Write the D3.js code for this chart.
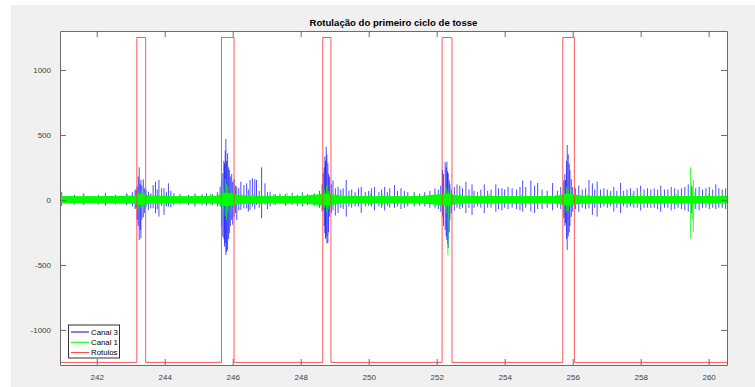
<!DOCTYPE html>
<html>
<head>
<meta charset="utf-8">
<script src="https://cdnjs.cloudflare.com/ajax/libs/d3/7.8.5/d3.min.js"></script>
<style>
  body { margin: 0; background: #fff; }
  text { font-family: "Liberation Sans", Arial, Helvetica, sans-serif; }
</style>
</head>
<body>
<svg id="chart"></svg>
<script>
var xTicks = [242, 244, 246, 248, 250, 252, 254, 256, 258, 260]
var yTicks = [-1000, -500, 0, 500, 1000]

// Rotulos: intervals where the label is high
var rotulosPulses = [[243.18, 243.44], [245.67, 246.04], [248.65, 248.89], [252.16, 252.45], [255.71, 256.05]]
var rotulosHigh = 1250
var rotulosLow = -1250

// Canal 3 (blue): [time, max, min] spikes
var canal3Spikes = [
  [240.97, 60, -45], [241.35, 40, -35], [241.62, 50, -40], [242.05, 40, -35], [242.26, 55, -45],
  [242.55, 40, -35], [242.88, 50, -40], [243.05, 60, -50],
  [243.13, 80, -70], [243.16, 77, -64], [243.19, 102, -154], [243.22, 180, -200], [243.25, 251, -308],
  [243.28, 120, -230], [243.30, 154, -295], [243.33, 110, -150], [243.37, 159, -133], [243.41, 90, -100],
  [243.45, 77, -56], [243.52, 64, -77], [243.59, 51, -64], [243.66, 115, -64], [243.73, 141, -102],
  [243.78, 80, -70], [243.83, 154, -128], [243.91, 90, -46], [243.98, 90, -115], [244.05, 60, -50],
  [244.11, 128, -51], [244.18, 69, -56], [244.27, 51, -40], [244.45, 45, -35], [244.70, 40, -40],
  [244.89, 50, -50], [245.10, 45, -40], [245.23, 50, -45], [245.40, 45, -40], [245.55, 60, -50],
  [245.63, 102, -51], [245.67, 150, -200], [245.71, 205, -282], [245.74, 300, -300], [245.76, 282, -359],
  [245.78, 380, -330], [245.80, 469, -423], [245.82, 300, -400], [245.85, 359, -385], [245.88, 250, -300],
  [245.90, 231, -256], [245.93, 180, -200], [245.97, 200, -154], [246.00, 140, -190], [246.04, 160, -130],
  [246.08, 110, -100], [246.12, 102, -154], [246.18, 90, -80], [246.24, 141, -77], [246.33, 115, -64],
  [246.41, 128, -64], [246.46, 80, -90], [246.51, 154, -77], [246.58, 167, -51], [246.65, 160, -70],
  [246.70, 154, -38], [246.78, 70, -60], [246.85, 251, -141], [246.95, 128, -38], [247.02, 60, -70],
  [247.10, 64, -51], [247.25, 45, -40], [247.39, 50, -30], [247.55, 45, -45], [247.75, 55, -40],
  [247.90, 40, -45], [248.05, 60, -50], [248.20, 45, -40], [248.40, 50, -45], [248.55, 70, -60],
  [248.63, 120, -90], [248.66, 205, -77], [248.69, 250, -200], [248.71, 333, -256], [248.73, 300, -300],
  [248.75, 410, -282], [248.77, 350, -333], [248.80, 282, -333], [248.82, 200, -250], [248.85, 179, -128],
  [248.90, 120, -100], [248.95, 150, -80], [249.02, 90, -120], [249.10, 100, -100], [249.18, 80, -60],
  [249.25, 90, -70], [249.34, 154, -128], [249.42, 70, -50], [249.50, 80, -60], [249.60, 60, -50],
  [249.70, 90, -50], [249.78, 100, -100], [249.90, 60, -50], [250.00, 70, -45], [250.08, 90, -50],
  [250.17, 100, -80], [250.30, 60, -50], [250.38, 80, -60], [250.47, 100, -80], [250.55, 60, -45],
  [250.62, 90, -60], [250.76, 115, -60], [250.85, 70, -50], [250.95, 90, -70], [251.05, 70, -60],
  [251.15, 60, -50], [251.34, 60, -50], [251.50, 50, -45], [251.65, 60, -50], [251.80, 70, -60],
  [251.95, 90, -60], [252.05, 80, -70], [252.12, 110, -90],
  [252.17, 231, -128], [252.20, 200, -200], [252.25, 290, -231], [252.28, 250, -280], [252.30, 295, -308],
  [252.32, 220, -340], [252.34, 205, -370], [252.37, 150, -250], [252.39, 120, -150], [252.43, 80, -100],
  [252.52, 100, -80], [252.60, 120, -60], [252.68, 110, -70], [252.76, 90, -60], [252.86, 140, -100],
  [252.95, 80, -60], [253.04, 120, -115], [253.10, 70, -60], [253.20, 60, -50], [253.30, 80, -60],
  [253.40, 120, -100], [253.50, 70, -60], [253.60, 80, -60], [253.74, 120, -90], [253.82, 90, -70],
  [253.92, 90, -80], [254.00, 80, -60], [254.10, 100, -70], [254.22, 90, -60], [254.35, 80, -70],
  [254.45, 100, -80], [254.53, 150, -90], [254.62, 100, -60], [254.77, 150, -90], [254.88, 110, -100],
  [254.97, 130, -70], [255.10, 80, -70], [255.25, 70, -60], [255.41, 130, -80], [255.55, 70, -60],
  [255.65, 100, -70],
  [255.74, 150, -140], [255.77, 200, -200], [255.79, 154, -179], [255.82, 300, -300], [255.84, 423, -385],
  [255.87, 350, -280], [255.90, 280, -250], [255.92, 231, -200], [255.96, 160, -130], [256.00, 100, -90],
  [256.08, 90, -70], [256.18, 110, -90], [256.28, 80, -60], [256.38, 90, -70], [256.48, 154, -64],
  [256.58, 128, -115], [256.65, 80, -60], [256.72, 141, -128], [256.82, 80, -60], [256.92, 90, -50],
  [257.02, 80, -60], [257.12, 70, -50], [257.21, 100, -90], [257.30, 70, -60], [257.41, 130, -100],
  [257.50, 70, -50], [257.60, 80, -60], [257.70, 90, -50], [257.80, 70, -60], [257.90, 90, -60],
  [258.00, 110, -80], [258.10, 80, -60], [258.20, 90, -60], [258.30, 80, -60], [258.40, 90, -60],
  [258.50, 80, -70], [258.59, 110, -90], [258.70, 80, -60], [258.80, 80, -60], [258.90, 100, -80],
  [259.00, 90, -70], [259.10, 80, -60], [259.20, 90, -70], [259.30, 100, -80], [259.40, 120, -90],
  [259.50, 110, -100], [259.62, 90, -70], [259.72, 100, -80], [259.82, 80, -60], [259.92, 90, -60],
  [260.02, 100, -70], [260.12, 80, -60], [260.21, 120, -70], [260.30, 90, -60], [260.40, 80, -60],
  [260.50, 90, -70]
]
var canal3Band = [[240.92, 24, -24], [260.54, 24, -24]]

// Canal 1 (green)
var canal1Spikes = [
  [241.60, 50, -35], [242.25, 45, -30], [242.90, 45, -35], [243.22, 60, -70], [243.30, 70, -60],
  [243.40, 50, -50], [244.00, 45, -40], [244.90, 40, -40], [245.35, 50, -35], [245.72, 80, -80],
  [245.78, 160, -120], [245.82, 120, -150], [245.86, 100, -90], [245.95, 60, -60], [246.25, 45, -40],
  [246.60, 50, -40], [247.20, 45, -35], [247.60, 55, -40], [248.05, 50, -40], [248.40, 50, -40],
  [248.70, 80, -60], [248.76, 110, -90], [248.81, 70, -70], [249.10, 50, -40], [249.62, 40, -35],
  [250.05, 50, -40], [250.40, 45, -40], [251.34, 55, -40], [251.95, 50, -40], [252.28, 100, -100],
  [252.33, 80, -423], [252.36, 60, -150], [252.70, 45, -40], [253.20, 50, -40], [253.55, 45, -35],
  [254.50, 40, -40], [255.50, 40, -35], [255.82, 100, -90], [255.87, 80, -80], [256.45, 50, -40],
  [257.10, 55, -40], [257.75, 50, -40], [258.00, 60, -45], [258.60, 50, -40], [259.05, 45, -40],
  [259.47, 251, -295], [259.52, 100, -150], [259.55, 154, -246], [259.60, 60, -70], [260.00, 45, -40],
  [260.40, 50, -40]
]
var canal1Band = [
  [240.92, 30, -25], [241.5, 28, -24], [242.5, 30, -26], [243.1, 35, -30], [243.3, 45, -40],
  [243.6, 35, -30], [244.5, 28, -24], [245.5, 32, -28], [245.8, 55, -50], [246.2, 38, -32],
  [247.0, 30, -26], [248.0, 30, -26], [248.75, 50, -45], [249.2, 32, -28], [250.5, 28, -24],
  [251.5, 30, -26], [252.3, 50, -45], [252.7, 32, -28], [254.0, 30, -26], [255.5, 30, -26],
  [255.85, 50, -45], [256.3, 32, -28], [258.0, 30, -26], [260.54, 30, -26]
]

var legendNames = ["Canal 3", "Canal 1", "Rotulos"]
var legendColors = ["#0000ff", "#00ff00", "#ff3b3b"]

var W = 755, H = 387
var margin = {top: 31, right: 28, bottom: 22, left: 60},
    width  = W - margin.left - margin.right,
    height = H - margin.top - margin.bottom;

var x = d3.scaleLinear().domain([240.92, 260.54]).range([0, width]);
var y = d3.scaleLinear().domain([-1270, 1300]).range([height, 0]);

var svg = d3.select("#chart")
    .attr("width", W)
    .attr("height", H)

// figure background
svg.append("rect")
    .attr("x", 11).attr("y", 5)
    .attr("width", W - 11).attr("height", H - 5)
    .attr("fill", "#f0f0f0")

svg.append("text")
    .attr("x", margin.left + width / 2)
    .attr("y", 26)
    .attr("text-anchor", "middle")
    .style("font-size", "9.6px")
    .style("font-weight", "bold")
    .attr("fill", "#000")
    .text("Rotulação do primeiro ciclo de tosse")

var g = svg.append("g")
    .attr("transform", "translate(" + margin.left + "," + margin.top + ")")

g.append("rect")
    .attr("width", width).attr("height", height)
    .attr("fill", "#fff")

var clip = g.append("clipPath").attr("id", "clip")
clip.append("rect").attr("width", width).attr("height", height)

var plot = g.append("g").attr("clip-path", "url(#clip)")

var band = d3.area()
    .x(function(d) { return x(d[0]); })
    .y0(function(d) { return y(d[2]); })
    .y1(function(d) { return y(d[1]); })

// Canal 3
plot.append("path")
    .datum(canal3Band)
    .attr("d", band)
    .attr("fill", "#0000ff")
    .attr("fill-opacity", 0.8)

plot.selectAll(".s3")
    .data(canal3Spikes)
  .enter().append("line")
    .attr("x1", function(d) { return x(d[0]); })
    .attr("x2", function(d) { return x(d[0]); })
    .attr("y1", function(d) { return y(d[1]); })
    .attr("y2", function(d) { return y(d[2]); })
    .attr("stroke", "#0000ff")
    .attr("stroke-width", 1)
    .attr("stroke-opacity", 0.7)

// Canal 1
plot.append("path")
    .datum(canal1Band)
    .attr("d", band)
    .attr("fill", "#00ff00")

plot.selectAll(".s1")
    .data(canal1Spikes)
  .enter().append("line")
    .attr("x1", function(d) { return x(d[0]); })
    .attr("x2", function(d) { return x(d[0]); })
    .attr("y1", function(d) { return y(d[1]); })
    .attr("y2", function(d) { return y(d[2]); })
    .attr("stroke", "#00ff00")
    .attr("stroke-width", 1)
    .attr("stroke-opacity", 0.8)

// Rotulos step line
var rotPts = [[x.domain()[0], rotulosLow]]
rotulosPulses.forEach(function(p) {
  rotPts.push([p[0], rotulosLow], [p[0], rotulosHigh], [p[1], rotulosHigh], [p[1], rotulosLow])
})
rotPts.push([x.domain()[1], rotulosLow])

plot.append("path")
    .datum(rotPts)
    .attr("d", d3.line().x(function(d) { return x(d[0]); }).y(function(d) { return y(d[1]); }))
    .attr("fill", "none")
    .attr("stroke", "#ff3b3b")
    .attr("stroke-opacity", 0.85)
    .attr("stroke-width", 1)

// axes box with inward ticks
var axisColor = "#6b6b6b"
var tickLen = 6
var plain = function(d) { return String(d); }

function styleAxis(sel) {
  sel.selectAll("path").attr("stroke", axisColor)
  sel.selectAll("line").attr("stroke", axisColor)
  sel.selectAll("text").attr("fill", "#404040").style("font-size", "8px")
}

g.append("g")
    .attr("transform", "translate(0," + height + ")")
    .call(d3.axisBottom(x).tickValues(xTicks).tickFormat(plain).tickSizeInner(-tickLen).tickSizeOuter(0).tickPadding(9))
    .call(styleAxis)

g.append("g")
    .call(d3.axisTop(x).tickValues(xTicks).tickSizeInner(-tickLen).tickSizeOuter(0).tickFormat(""))
    .call(styleAxis)

g.append("g")
    .call(d3.axisLeft(y).tickValues(yTicks).tickFormat(plain).tickSizeInner(-tickLen).tickSizeOuter(0).tickPadding(9))
    .call(styleAxis)

g.append("g")
    .attr("transform", "translate(" + width + ",0)")
    .call(d3.axisRight(y).tickValues(yTicks).tickSizeInner(-tickLen).tickSizeOuter(0).tickFormat(""))
    .call(styleAxis)

// legend
var lg = g.append("g").attr("transform", "translate(8," + (height - 40.5) + ")")
lg.append("rect")
    .attr("x", 0.5).attr("y", 0.5)
    .attr("width", 51).attr("height", 33)
    .attr("fill", "#fff")
    .attr("stroke", "#333")
    .attr("stroke-width", 1)

legendNames.forEach(function(name, i) {
  var ly = 7.5 + i * 10.3
  lg.append("line")
      .attr("x1", 3).attr("x2", 21)
      .attr("y1", ly).attr("y2", ly)
      .attr("stroke", legendColors[i])
      .attr("stroke-width", 1)
  lg.append("text")
      .attr("x", 23)
      .attr("y", ly + 2.8)
      .style("font-size", "7.8px")
      .attr("fill", "#000")
      .text(name)
})
</script>
</body>
</html>
